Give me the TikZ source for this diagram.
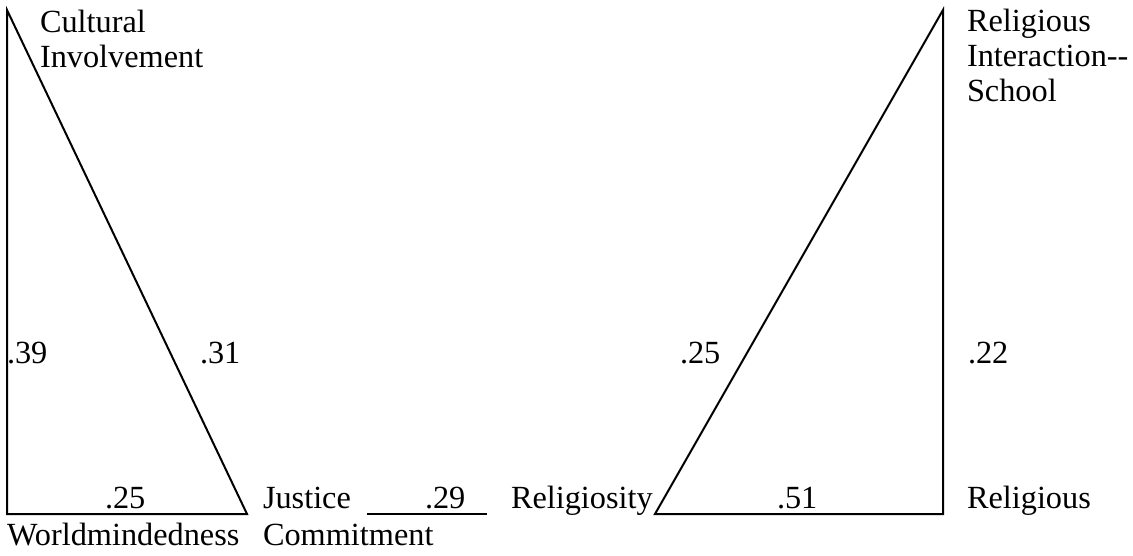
\documentclass[tikz,border=0pt]{standalone}
\usepackage{fontspec}
\setmainfont{Liberation Serif}
\begin{document}
\begin{tikzpicture}[x=1pt,y=-1pt,
  lbl/.style={anchor=base west,inner sep=0pt,outer sep=0pt,font=\fontsize{32.3}{36}\selectfont},
  edge/.style={line width=2pt,line join=miter}]
\useasboundingbox (0,0) rectangle (1133,556);
% corners
\coordinate (A) at (7,10);
\coordinate (B) at (7,514);
\coordinate (C) at (247,514);
\coordinate (J1) at (367,514);
\coordinate (J2) at (487,514);
\coordinate (D) at (655,514);
\coordinate (E) at (943,514);
\coordinate (F) at (943,10);
% edges
\draw[edge] (A) -- (B) -- (C) -- cycle;
\draw[edge] (J1) -- (J2);
\draw[edge] (D) -- (E) -- (F) -- cycle;
% labels
\node[lbl] (cult1) at (40,33) {Cultural};
\node[lbl] (cult2) at (40,68) {Involvement};
\node[lbl] (rel1) at (967,32) {Religious};
\node[lbl] (rel2) at (967,67) {Interaction-{}-};
\node[lbl] (rel3) at (967,102) {School};
\node[lbl] (v39) at (7,363) {.39};
\node[lbl] (v31) at (200,363) {.31};
\node[lbl] (v25a) at (105,508) {.25};
\node[lbl] (just) at (263,508) {Justice};
\node[lbl] (comm) at (263,545) {Commitment};
\node[lbl] (world) at (7,545) {Worldmindedness};
\node[lbl] (v29) at (425,508) {.29};
\node[lbl] (relig) at (511,508) {Religiosity};
\node[lbl] (v25b) at (680,363) {.25};
\node[lbl] (v22) at (968,363) {.22};
\node[lbl] (v51) at (777,508) {.51};
\node[lbl] (relb) at (967,508) {Religious};
\end{tikzpicture}
\end{document}
